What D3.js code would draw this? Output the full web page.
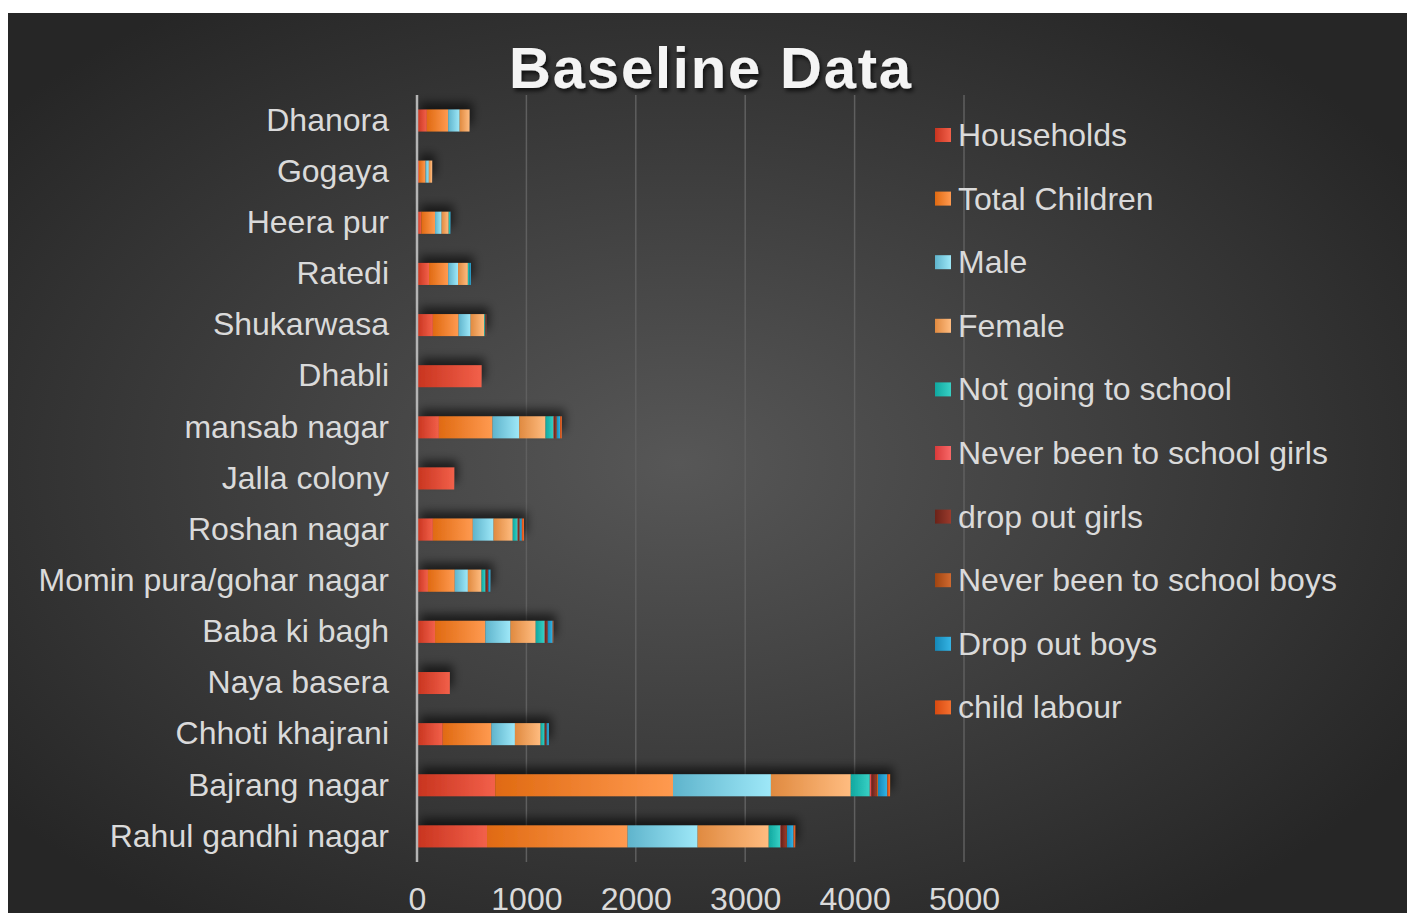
<!DOCTYPE html>
<html>
<head>
<meta charset="utf-8">
<script src="https://cdnjs.cloudflare.com/ajax/libs/d3/7.8.5/d3.min.js"></script>
<style>
  body { margin: 0; background: #fff; }
  svg { display: block; }
  text { font-family: "Liberation Sans", Arial, sans-serif; }
</style>
</head>
<body>
<svg id="chart"></svg>
<script>
// categories, top to bottom as they appear
var villages = ["Dhanora", "Gogaya", "Heera pur", "Ratedi", "Shukarwasa", "Dhabli",
  "mansab nagar", "Jalla colony", "Roshan nagar", "Momin pura/gohar nagar",
  "Baba ki bagh", "Naya basera", "Chhoti khajrani", "Bajrang nagar", "Rahul gandhi nagar"];

// series values
var households    = [90, 18, 40, 110, 145, 590, 200, 340, 145, 100, 165, 300, 235, 715, 640];
var totalChildren = [195, 60, 125, 175, 235, 0, 490, 0, 365, 245, 460, 0, 445, 1625, 1285];
var male          = [105, 30, 60, 90, 110, 0, 245, 0, 190, 120, 230, 0, 215, 895, 640];
var female        = [90, 30, 65, 90, 125, 0, 240, 0, 175, 125, 230, 0, 235, 730, 650];
var notGoing      = [0, 0, 12, 15, 10, 0, 73, 0, 45, 37, 82, 0, 37, 174, 107];
var neverGirls    = [0, 0, 0, 0, 0, 0, 5, 0, 3, 0, 3, 0, 0, 15, 5];
var dropGirls     = [0, 0, 0, 0, 8, 0, 20, 0, 10, 25, 25, 0, 18, 45, 50];
var neverBoys     = [0, 0, 0, 0, 0, 0, 5, 0, 5, 0, 0, 0, 0, 15, 5];
var dropBoys      = [0, 0, 3, 12, 0, 0, 30, 0, 20, 18, 45, 0, 20, 85, 60];
var childLabour   = [0, 0, 0, 0, 0, 0, 15, 0, 20, 0, 5, 0, 0, 25, 15];

var seriesNames = ["Households", "Total Children", "Male", "Female", "Not going to school",
  "Never been to school girls", "drop out girls", "Never been to school boys",
  "Drop out boys", "child labour"];
var seriesValues = [households, totalChildren, male, female, notGoing,
  neverGirls, dropGirls, neverBoys, dropBoys, childLabour];
var xTicks = [0, 1000, 2000, 3000, 4000, 5000];

// dark / light ends of each bar colour
var colors = [
  ["#c8341f", "#f2604a"],
  ["#e06a12", "#ff9a50"],
  ["#5fb4cc", "#9ee8f8"],
  ["#e08a40", "#ffbc80"],
  ["#10a8a0", "#38d0c4"],
  ["#d83a3a", "#f86868"],
  ["#6a2218", "#9a3a2c"],
  ["#a04410", "#d06a30"],
  ["#1588b8", "#35b4e4"],
  ["#d84a10", "#f47030"]
];

var W = 1407, H = 913;
var svg = d3.select("#chart").attr("width", W).attr("height", H);
var defs = svg.append("defs");

var bg = defs.append("radialGradient").attr("id", "bg")
  .attr("cx", "0.48").attr("cy", "0.5").attr("r", "0.62");
bg.append("stop").attr("offset", "0").attr("stop-color", "#575757");
bg.append("stop").attr("offset", "1").attr("stop-color", "#262626");

colors.forEach(function(c, i) {
  var g = defs.append("linearGradient").attr("id", "g" + i)
    .attr("x1", 0).attr("x2", 1).attr("y1", 0).attr("y2", 0);
  g.append("stop").attr("offset", "0").attr("stop-color", c[0]);
  g.append("stop").attr("offset", "1").attr("stop-color", c[1]);
});

var shadow = defs.append("filter").attr("id", "shadow")
  .attr("x", "-10%").attr("y", "-80%").attr("width", "120%").attr("height", "260%");
shadow.append("feDropShadow").attr("dx", 3).attr("dy", -7).attr("stdDeviation", 5)
  .attr("flood-color", "#000").attr("flood-opacity", 0.6);

var titleShadow = defs.append("filter").attr("id", "tshadow");
titleShadow.append("feDropShadow").attr("dx", 2).attr("dy", 3).attr("stdDeviation", 2)
  .attr("flood-color", "#000").attr("flood-opacity", 0.7);

// background panel
svg.append("rect").attr("x", 8).attr("y", 13).attr("width", W - 8).attr("height", H - 13)
  .attr("fill", "url(#bg)");

// title
svg.append("text")
  .attr("x", 711).attr("y", 88)
  .attr("text-anchor", "middle")
  .attr("font-size", 58).attr("font-weight", "bold")
  .attr("letter-spacing", 1.8)
  .attr("fill", "#f4f4f4")
  .attr("filter", "url(#tshadow)")
  .text("Baseline Data");

// scales
var x = d3.scaleLinear().domain([0, 5000]).range([417, 964]);
var y = d3.scaleBand().domain(villages).range([95, 862]).paddingInner(0.57).paddingOuter(0.285);

// gridlines
svg.append("g").selectAll("line").data(xTicks.slice(1)).enter().append("line")
  .attr("x1", function(d) { return x(d); }).attr("x2", function(d) { return x(d); })
  .attr("y1", 95).attr("y2", 862)
  .attr("stroke", "#5f5f5f").attr("stroke-width", 1.5);

// stack the data
var rows = villages.map(function(v, i) {
  var r = { village: v };
  seriesNames.forEach(function(s, j) { r[s] = seriesValues[j][i]; });
  return r;
});
var stacked = d3.stack().keys(seriesNames)(rows);

var barsG = svg.append("g").attr("filter", "url(#shadow)");
stacked.forEach(function(layer, j) {
  barsG.append("g").selectAll("rect").data(layer).enter().append("rect")
    .attr("x", function(d) { return x(d[0]); })
    .attr("width", function(d) { return x(d[1]) - x(d[0]); })
    .attr("y", function(d) { return y(d.data.village); })
    .attr("height", y.bandwidth())
    .attr("fill", "url(#g" + j + ")");
});

// vertical axis line
svg.append("line").attr("x1", x(0)).attr("x2", x(0)).attr("y1", 95).attr("y2", 862)
  .attr("stroke", "#b4b4b4").attr("stroke-width", 2.5);

// y axis labels
var yAxis = svg.append("g").attr("transform", "translate(" + x(0) + ",0)")
  .call(d3.axisLeft(y).tickSize(0).tickPadding(28));
yAxis.select(".domain").remove();
yAxis.selectAll("text").attr("font-size", 32).attr("fill", "#dadada")
  .attr("font-family", "Liberation Sans, Arial, sans-serif");

// x axis labels
var xAxis = svg.append("g").attr("transform", "translate(0,862)")
  .call(d3.axisBottom(x).tickValues(xTicks).tickSize(0).tickPadding(25).tickFormat(d3.format("d")));
xAxis.select(".domain").remove();
xAxis.selectAll("text").attr("font-size", 32).attr("fill", "#dadada")
  .attr("font-family", "Liberation Sans, Arial, sans-serif");

// legend
var legend = svg.append("g").attr("transform", "translate(935,135)");
var item = legend.selectAll("g").data(seriesNames).enter().append("g")
  .attr("transform", function(d, i) { return "translate(0," + (i * 63.6) + ")"; });
item.append("rect").attr("x", 0).attr("y", -7).attr("width", 16).attr("height", 14)
  .attr("fill", function(d, i) { return "url(#g" + i + ")"; });
item.append("text").attr("x", 23).attr("y", 11)
  .attr("font-size", 32).attr("fill", "#dadada")
  .text(function(d) { return d; });
</script>
</body>
</html>
